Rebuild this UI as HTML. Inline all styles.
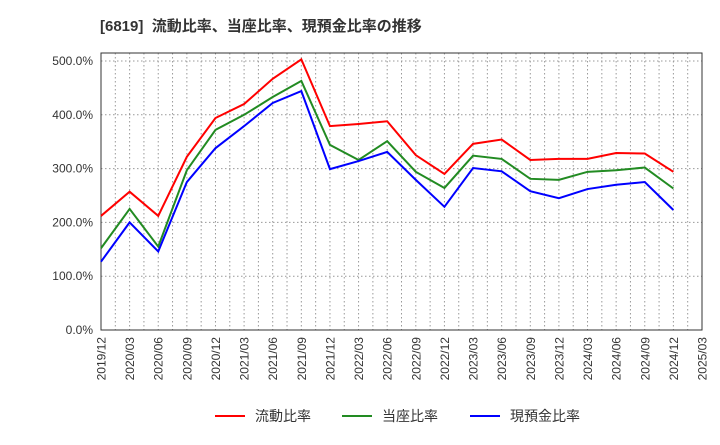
<!DOCTYPE html>
<html><head><meta charset="utf-8"><style>
body{margin:0;background:#fff;font-family:"Liberation Sans","Noto Sans CJK JP",sans-serif}
</style></head><body>
<svg width="720" height="440" xmlns="http://www.w3.org/2000/svg" font-family="Liberation Sans, Noto Sans CJK JP, sans-serif">
<text x="100" y="31" font-size="15" font-weight="bold" fill="#333" xml:space="preserve">[6819]  流動比率、当座比率、現預金比率の推移</text>
<g id="grid"></g><g id="axes"></g><g id="series"></g><g id="legend"></g>
</svg>
<script>
const categories=["2019/12","2020/03","2020/06","2020/09","2020/12","2021/03","2021/06","2021/09","2021/12","2022/03","2022/06","2022/09","2022/12","2023/03","2023/06","2023/09","2023/12","2024/03","2024/06","2024/09","2024/12"];
const tickLabels=["2019/12","2020/03","2020/06","2020/09","2020/12","2021/03","2021/06","2021/09","2021/12","2022/03","2022/06","2022/09","2022/12","2023/03","2023/06","2023/09","2023/12","2024/03","2024/06","2024/09","2024/12","2025/03"];
const yTicks=[0,100,200,300,400,500];
const currentRatio=[212,257,212,322,394,420,467,503,379,383,388,325,290,346,354,316,318,318,329,328,294];
const quickRatio=[152,225,155,297,372,400,433,463,344,316,351,294,264,324,318,281,279,294,297,302,263];
const cashRatio=[127,200,146,275,338,379,422,444,299,314,331,279,229,301,295,258,245,262,270,275,223];
const NS="http://www.w3.org/2000/svg";
const L=101,R=702,T=53,B=330;
const step=(R-L)/(tickLabels.length-1);
const x=i=>L+i*step;
const y=v=>B-v*(B-61)/500;
function mk(t,a,p){const e=document.createElementNS(NS,t);for(const k in a)e.setAttribute(k,a[k]);p.appendChild(e);return e;}
const grid=document.getElementById('grid'),axes=document.getElementById('axes'),ser=document.getElementById('series'),leg=document.getElementById('legend');
for(let k=1;k<(tickLabels.length-1)*2;k++){const gx=L+k*step/2;const g=mk('line',{x1:gx,x2:gx,y1:T,y2:B,stroke:'#999','stroke-dasharray':'1.5,2.5','stroke-width':1},grid);

}
yTicks.forEach(v=>{if(v>0){const g=mk('line',{x1:L,x2:R,y1:y(v),y2:y(v),stroke:'#999','stroke-dasharray':'1.5,2.5','stroke-width':1},grid);

}
const t=mk('text',{x:L-8,y:y(v)+4,'text-anchor':'end','font-size':12,fill:'#333'},axes);t.textContent=v.toFixed(1)+'%';

});
const fr=mk('rect',{x:L,y:T,width:R-L,height:B-T,fill:'none',stroke:'#333','stroke-width':1},axes);


tickLabels.forEach((lb,i)=>{const t=mk('text',{transform:`translate(${x(i)+4.5},${B+7}) rotate(-90)`,'text-anchor':'end','font-size':12,fill:'#333'},axes);t.textContent=lb;

});
const series=[[currentRatio,'#ff0000','流動比率','current-ratio-line'],[quickRatio,'#228b22','当座比率','quick-ratio-line'],[cashRatio,'#0000ff','現預金比率','cash-ratio-line']];
series.forEach(([d,c,n,nm],si)=>{const p=mk('polyline',{points:d.map((v,i)=>x(i)+','+y(v)).join(' '),fill:'none',stroke:c,'stroke-width':2},ser);


const lx=[215,342,470][si];
const ll=mk('line',{x1:lx,x2:lx+30,y1:416,y2:416,stroke:c,'stroke-width':2},leg);


const t=mk('text',{x:lx+40,y:421,'font-size':14,fill:'#333'},leg);t.textContent=n;

});
</script>
</body></html>
